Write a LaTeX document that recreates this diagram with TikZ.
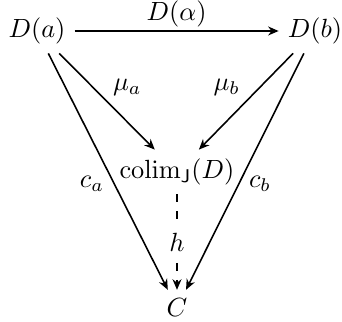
\documentclass[tikz,border=0pt]{standalone}
\usepackage{amsmath,amssymb}
\usepackage{tikz}
\usetikzlibrary{arrows.meta}
\tikzset{
  obj/.style  ={inner sep=3.3pt},
  arr/.style  ={-{Stealth[length=4pt,width=3.4pt]}, semithick},
  darr/.style ={arr, dash pattern=on 3pt off 3.5pt},
  el/.style   ={inner sep=2pt},
}

\begin{document}
\begin{tikzpicture}[x=0.38pt,y=-0.38pt]
  \useasboundingbox (0,0) rectangle (342,322);
  \node[obj] (Da) at (37,31) {$D(a)$};
  \node[obj] (Db) at (315,31) {$D(b)$};
  \node[obj] (colim) at (177,172) {$\operatorname{colim}_{\mathsf{J}}(D)$};
  \node[obj] (C) at (177,308) {$C$};
  \draw[arr] (Da) -- node[el, above, inner sep=1pt] {$D(\alpha)$} (Db);
  \draw[arr] (Da) -- node[el, above right, pos=0.5] {$\mu_a$} (colim);
  \draw[arr] (Db) -- node[el, above left, pos=0.5] {$\mu_b$} (colim);
  \draw[arr] (Da) -- node[el, left, pos=0.55, inner sep=3.5pt] {$c_a$} (C);
  \draw[arr] (Db) -- node[el, right, pos=0.55, inner sep=3.5pt] {$c_b$} (C);
  \draw[darr] (colim) -- node[fill=white, inner sep=2pt] {$h$} (C);
\end{tikzpicture}
\end{document}
